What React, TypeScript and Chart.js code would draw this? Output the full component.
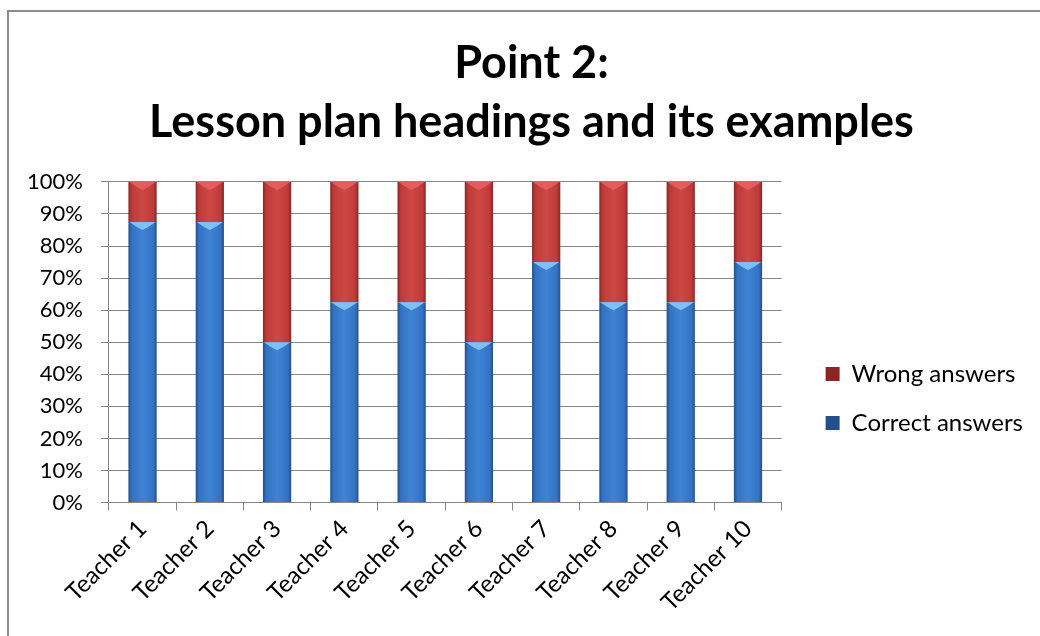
import React, { useEffect, useRef } from "react";
import { Chart, registerables } from "chart.js";

Chart.register(...registerables);

const categories = ["Teacher 1", "Teacher 2", "Teacher 3", "Teacher 4", "Teacher 5", "Teacher 6", "Teacher 7", "Teacher 8", "Teacher 9", "Teacher 10"];
const correctAnswers = [87.5, 87.5, 50, 62.5, 62.5, 50, 75, 62.5, 62.5, 75];
const wrongAnswers = [12.5, 12.5, 50, 37.5, 37.5, 50, 25, 37.5, 37.5, 25];
const titleLines = ["Point 2:", "Lesson plan headings and its examples"];
const seriesNames = ["Correct answers", "Wrong answers"];

const BAR_PCT = 0.42;
const LEGEND_SHIFT_X = 19;
const LEGEND_SHIFT_Y = 88;
const TITLE_SHIFT_X = 20;

const palettes = [
  { dark: "#23508c", mid: "#3472c2", light: "#3f83d5", bevel: "rgba(140,205,250,0.85)", solid: "#3574c6" },
  { dark: "#8a2624", mid: "#bd3b39", light: "#cc4845", bevel: "rgba(235,100,100,0.8)", solid: "#c0403c" },
];

function makeFill(idx: number) {
  return (ctx: any) => {
    const p = palettes[idx];
    if (ctx.type !== "data") return p.solid;
    const chart = ctx.chart;
    const xs = chart.scales && chart.scales.x;
    if (!xs || !chart.chartArea) return p.solid;
    const cx = xs.getPixelForValue(ctx.dataIndex);
    const cw = chart.chartArea.width / categories.length;
    const w = cw * BAR_PCT;
    const g = chart.ctx.createLinearGradient(cx - w / 2, 0, cx + w / 2, 0);
    g.addColorStop(0, p.dark);
    g.addColorStop(0.12, p.mid);
    g.addColorStop(0.5, p.light);
    g.addColorStop(0.88, p.mid);
    g.addColorStop(1, p.dark);
    return g;
  };
}

const bevelPlugin = {
  id: "bevel",
  afterDatasetsDraw(chart: any) {
    const c = chart.ctx;
    chart.data.datasets.forEach((_ds: any, di: number) => {
      const meta = chart.getDatasetMeta(di);
      meta.data.forEach((el: any) => {
        const { x, y, width } = el.getProps(["x", "y", "width"], true);
        const h = Math.min(8, Math.abs(el.base - y));
        c.save();
        c.fillStyle = palettes[di].bevel;
        c.beginPath();
        c.moveTo(x - width / 2 + 1, y);
        c.lineTo(x + width / 2 - 1, y);
        c.lineTo(x + width / 2 - 8, y + h * 0.6);
        c.lineTo(x, y + h);
        c.lineTo(x - width / 2 + 8, y + h * 0.6);
        c.closePath();
        c.fill();
        c.restore();
      });
    });
  },
};

const layoutNudge = {
  id: "layoutNudge",
  afterLayout(chart: any) {
    const lg = chart.legend;
    if (lg) {
      lg.left += LEGEND_SHIFT_X;
      lg.right += LEGEND_SHIFT_X;
      lg.top += LEGEND_SHIFT_Y;
      lg.bottom += LEGEND_SHIFT_Y;
    }
    const tt = chart.titleBlock;
    if (tt) {
      tt.left += TITLE_SHIFT_X;
      tt.right += TITLE_SHIFT_X;
    }
  },
};

export default function App() {
  const ref = useRef<HTMLCanvasElement | null>(null);
  useEffect(() => {
    if (!ref.current) return;
    const font = "Lato, 'Open Sans', sans-serif";
    Chart.defaults.color = "#000";
    const chart = new Chart(ref.current, {
      type: "bar",
      data: {
        labels: categories,
        datasets: [
          { label: seriesNames[0], data: correctAnswers, backgroundColor: makeFill(0) as any, barPercentage: BAR_PCT, categoryPercentage: 1 },
          { label: seriesNames[1], data: wrongAnswers, backgroundColor: makeFill(1) as any, barPercentage: BAR_PCT, categoryPercentage: 1 },
        ],
      },
      options: {
        responsive: false,
        animation: false,
        devicePixelRatio: 1,
        layout: { padding: { left: 9, right: 26, top: 0, bottom: 15 } },
        plugins: {
          title: {
            display: true,
            text: titleLines,
            color: "#000",
            font: { family: font, size: 45, weight: "bold", lineHeight: 1.31 },
            padding: { top: 34, bottom: 30 },
          },
          legend: {
            display: true,
            position: "right",
            reverse: true,
            labels: {
              boxWidth: 14,
              boxHeight: 14,
              padding: 25,
              color: "#000",
              font: { family: font, size: 24 },
            },
          },
          tooltip: { enabled: false },
        },
        scales: {
          x: {
            stacked: true,
            grid: { drawOnChartArea: false, drawTicks: true, tickLength: 8, color: "#868686", offset: true },
            border: { display: true, color: "#868686" },
            ticks: { maxRotation: 45, minRotation: 45, padding: 4, color: "#000", font: { family: font, size: 24 } },
          },
          y: {
            stacked: true,
            min: 0,
            max: 100,
            ticks: { stepSize: 10, padding: 18, color: "#000", font: { family: font, size: 22 }, callback: (v: any) => v + "%" },
            grid: { color: "#868686", tickLength: 8, drawTicks: true },
            border: { display: true, color: "#868686" },
          },
        },
      },
      plugins: [bevelPlugin, layoutNudge],
    });
    return () => chart.destroy();
  }, []);
  return (
    <div style={{ position: "fixed", left: 0, top: 0, width: 1040, height: 636, overflow: "hidden", background: "#fff" }}>
      <div style={{ position: "absolute", left: 7, top: 10, width: 1100, height: 700, borderLeft: "2px solid #8c8c8c", borderTop: "2px solid #8c8c8c" }} />
      <canvas ref={ref} width={1040} height={636} style={{ position: "absolute", left: 0, top: 0, width: 1040, height: 636 }} />
    </div>
  );
}
